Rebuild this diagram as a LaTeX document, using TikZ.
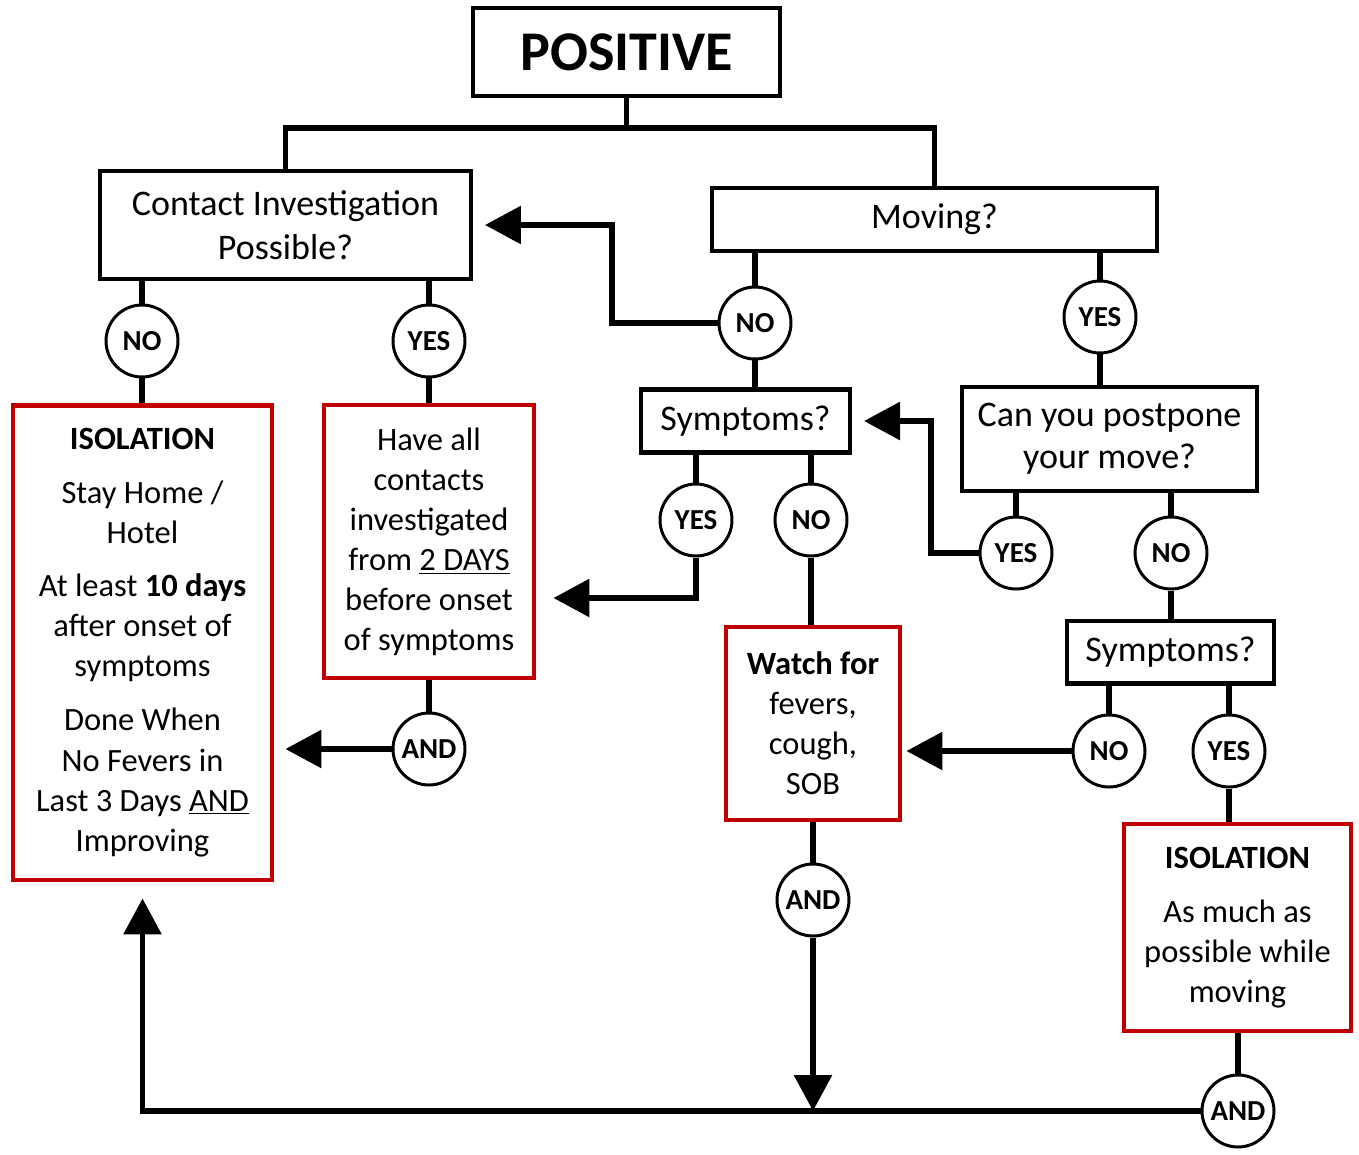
\documentclass[tikz,border=0pt]{standalone}
\usepackage{fontspec}
\setmainfont{Carlito}
\usetikzlibrary{arrows.meta}
\definecolor{isored}{RGB}{192,0,0}
\tikzset{
    question/.style={draw, line width=2.3pt, inner sep=0pt, align=center, font=\fontsize{20.5}{25}\selectfont},
    redbox/.style={draw=isored, line width=2.8pt, inner sep=0pt, align=center, font=\fontsize{18.5}{22.8}\selectfont},
    answer/.style={draw, circle, line width=1.7pt, inner sep=0pt, minimum size=1.44cm, font=\bfseries\fontsize{16.5}{19}\selectfont},
    link/.style={line width=3.4pt},
    flow/.style={link, -{Triangle[length=0.72cm,width=0.74cm]}}
}
\begin{document}
\begin{tikzpicture}[x=0.02cm, y=-0.02cm]
    \useasboundingbox (0,0) rectangle (1359,1154);

    \node[draw, line width=2.8pt, minimum width=6.14cm, minimum height=1.76cm, font=\bfseries\fontsize{31.9}{36}\selectfont] (pos) at (626.5,52) {POSITIVE};
    \node[question, minimum width=7.42cm, minimum height=2.16cm] (contact) at (285.5,225) {Contact Investigation\\Possible?};
    \node[question, minimum width=8.9cm, minimum height=1.26cm] (moving) at (934.5,219.5) {Moving?};
    \node[question, minimum width=4.18cm, minimum height=1.26cm] (sympA) at (745.5,421) {Symptoms?};
    \node[question, minimum width=5.9cm, minimum height=2.08cm, font=\fontsize{20.5}{24}\selectfont] (postpone) at (1109.5,439) {Can you postpone\\your move?};
    \node[question, minimum width=4.14cm, minimum height=1.26cm] (sympB) at (1170.5,652) {Symptoms?};

    \node[redbox, minimum width=5.18cm, minimum height=9.5cm] (iso) at (142.5,642.5) {\textbf{ISOLATION}\\[0.28cm]Stay Home /\\Hotel\\[0.26cm]At least \textbf{10 days}\\after onset of\\symptoms\\[0.28cm]Done When\\No Fevers in\\Last 3 Days \underline{AND}\\Improving};
    \node[redbox, minimum width=4.2cm, minimum height=5.46cm] (contacts) at (429,541.5) {Have all\\contacts\\investigated\\from \underline{2 DAYS}\\before onset\\of symptoms};
    \node[redbox, minimum width=3.48cm, minimum height=3.86cm] (watch) at (813,723.5) {\textbf{Watch for}\\fevers,\\cough,\\SOB};
    \node[redbox, minimum width=4.54cm, minimum height=4.14cm] (isoB) at (1237.5,927.5) {\textbf{ISOLATION}\\[0.28cm]As much as\\possible while\\moving};

    \node[answer] (noC) at (142,341) {NO};
    \node[answer] (yesC) at (429,341) {YES};
    \node[answer] (andC) at (429,749) {AND};
    \node[answer] (noM) at (755,323) {NO};
    \node[answer] (yesM) at (1100,317) {YES};
    \node[answer] (yesS) at (696,520) {YES};
    \node[answer] (noS) at (811,520) {NO};
    \node[answer] (yesP) at (1016,553) {YES};
    \node[answer] (noP) at (1171,553) {NO};
    \node[answer] (noB) at (1109,751) {NO};
    \node[answer] (yesB) at (1229,751) {YES};
    \node[answer] (andW) at (813,900) {AND};
    \node[answer] (andB) at (1238,1111) {AND};

    \coordinate (split) at (626.5,128);
    \draw[link] (pos.south) -- (split);
    \draw[link] (split) -| (contact.north);
    \draw[link] (split) -| (moving.north);

    \draw[link] (noC.north) -- (noC.north |- contact.south);
    \draw[link] (noC.south) -- (noC.south |- iso.north);
    \draw[link] (yesC.north) -- (yesC.north |- contact.south);
    \draw[link] (yesC.south) -- (yesC.south |- contacts.north);
    \draw[link] (contacts.south) -- (andC.north);
    \draw[flow, shorten >=0.22cm] (andC.west) -- (iso.east |- andC.west);

    \draw[link] (noM.north) -- (noM.north |- moving.south);
    \draw[link] (noM.south) -- (noM.south |- sympA.north);
    \draw[flow, shorten >=0.24cm] (noM.west) -- ++(-106,0) |- (contact.east);
    \draw[link] (yesM.north) -- (yesM.north |- moving.south);
    \draw[link] (yesM.south) -- (yesM.south |- postpone.north);

    \draw[link] (yesS.north) -- (yesS.north |- sympA.south);
    \draw[link] (noS.north) -- (noS.north |- sympA.south);
    \draw[flow, shorten >=0.34cm] (yesS.south) |- (contacts.east |- 0,598);
    \draw[link] (noS.south) -- (noS.south |- watch.north);

    \draw[link] (yesP.north) -- (yesP.north |- postpone.south);
    \draw[link] (noP.north) -- (noP.north |- postpone.south);
    \draw[flow, shorten >=0.24cm] (yesP.west) -- ++(-48,0) |- (sympA.east);
    \draw[link] (noP.south) -- (noP.south |- sympB.north);

    \draw[link] (noB.north) -- (noB.north |- sympB.south);
    \draw[link] (yesB.north) -- (yesB.north |- sympB.south);
    \draw[flow, shorten >=0.08cm] (noB.west) -- (watch.east |- noB.west);
    \draw[link] (yesB.south) -- (yesB.south |- isoB.north);

    \draw[link] (watch.south) -- (andW.north);
    \draw[flow] (andW.south) -- (andW.south |- andB.west);
    \draw[link] (isoB.south) -- (isoB.south |- andB.north);
    \draw[flow, shorten >=0.32cm] (andB.west) -| (iso.south);
\end{tikzpicture}
\end{document}
